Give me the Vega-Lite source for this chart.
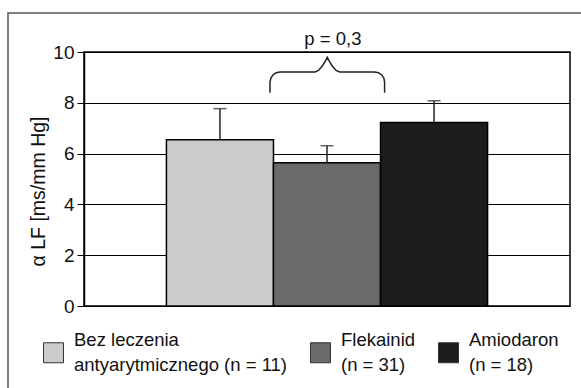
{
  "$schema": "https://vega.github.io/schema/vega-lite/v6.json",
  "width": 486,
  "height": 254,
  "autosize": {"type": "none"},
  "padding": {"left": 84, "top": 52, "right": 11, "bottom": 82},
  "background": "white",
  "config": {
    "view": {"stroke": "#000", "strokeWidth": 1.5},
    "font": "Liberation Sans, Arial, sans-serif"
  },
  "datasets": {
    "bars": [
      {"group": "Bez leczenia\nantyarytmicznego (n = 11)", "mean": 6.55, "upper": 7.77},
      {"group": "Flekainid\n(n = 31)", "mean": 5.64, "upper": 6.31},
      {"group": "Amiodaron\n(n = 18)", "mean": 7.22, "upper": 8.08}
    ],
    "brace": [
      {"i": 1, "bx": 1.7375, "by": 8.398},
      {"i": 2, "bx": 1.7375, "by": 8.819},
      {"i": 3, "bx": 1.746, "by": 8.970},
      {"i": 4, "bx": 1.765, "by": 9.097},
      {"i": 5, "bx": 1.795, "by": 9.183},
      {"i": 6, "bx": 1.831, "by": 9.213},
      {"i": 7, "bx": 2.158, "by": 9.213},
      {"i": 8, "bx": 2.190, "by": 9.272},
      {"i": 9, "bx": 2.223, "by": 9.429},
      {"i": 10, "bx": 2.256, "by": 9.646},
      {"i": 11, "bx": 2.273, "by": 9.791},
      {"i": 12, "bx": 2.290, "by": 9.646},
      {"i": 13, "bx": 2.322, "by": 9.429},
      {"i": 14, "bx": 2.355, "by": 9.272},
      {"i": 15, "bx": 2.388, "by": 9.213},
      {"i": 16, "bx": 2.715, "by": 9.213},
      {"i": 17, "bx": 2.751, "by": 9.183},
      {"i": 18, "bx": 2.781, "by": 9.097},
      {"i": 19, "bx": 2.801, "by": 8.970},
      {"i": 20, "bx": 2.808, "by": 8.819},
      {"i": 21, "bx": 2.808, "by": 8.398}
    ],
    "note": [{"tx": 2.325, "ty": 10.276, "label": "p = 0,3"}],
    "frame": [{"x1": -0.71, "x2": 5.0, "y1": -4.0, "y2": 11.535}]
  },
  "resolve": {"scale": {"x": "independent"}},
  "layer": [
    {
      "data": {"name": "bars"},
      "layer": [
        {
          "mark": {"type": "bar", "stroke": "#000", "strokeWidth": 1.5},
          "encoding": {
            "x": {
              "field": "group", "type": "nominal", "sort": null,
              "scale": {"paddingInner": 0, "paddingOuter": 0.77},
              "axis": null
            },
            "y": {
              "field": "mean", "type": "quantitative",
              "scale": {"domain": [0, 10], "nice": false},
              "axis": {
                "values": [0, 2, 4, 6, 8, 10],
                "title": "α LF [ms/mm Hg]",
                "titleFont": "Liberation Sans, Arial, sans-serif",
                "titleFontSize": 19.5,
                "titleFontWeight": "normal",
                "titleColor": "#111",
                "titleX": -46,
                "titleY": 139,
                "titleAngle": -90,
                "titleAlign": "center",
                "titleBaseline": "middle",
                "labelFont": "Liberation Sans, Arial, sans-serif",
                "labelFontSize": 19,
                "labelColor": "#111",
                "labelPadding": 3,
                "tickColor": "#000",
                "tickSize": 7,
                "tickWidth": 1,
                "domainColor": "#000",
                "domainWidth": 1.5,
                "grid": true,
                "gridColor": "#000",
                "gridWidth": 1,
                "gridOpacity": 1
              }
            },
            "color": {
              "field": "group", "type": "nominal", "sort": null,
              "scale": {"range": ["#cbcbcb", "#6a6a6a", "#1c1c1c"]},
              "legend": {
                "orient": "none",
                "legendX": -41,
                "legendY": 290,
                "direction": "horizontal",
                "columns": 3,
                "title": null,
                "padding": 0,
                "symbolType": "square",
                "symbolSize": 400,
                "symbolStrokeColor": "#333",
                "symbolStrokeWidth": 1,
                "symbolOpacity": 1,
                "labelFont": "Liberation Sans, Arial, sans-serif",
                "labelFontSize": 18.5,
                "labelColor": "#111",
                "labelLimit": 400,
                "labelOffset": 10,
                "columnPadding": 20,
                "labelExpr": "split(datum.label, '\\n')",
                "encode": {"labels": {"update": {"lineHeight": {"value": 25}, "dy": {"value": -12.5}}}}
              }
            }
          }
        },
        {
          "mark": {"type": "rule", "color": "#222", "strokeWidth": 1.5},
          "encoding": {
            "x": {"field": "group", "type": "nominal", "sort": null, "scale": {"paddingInner": 0, "paddingOuter": 0.77}, "axis": null},
            "y": {"field": "mean", "type": "quantitative", "scale": {"domain": [0, 10], "nice": false}},
            "y2": {"field": "upper"}
          }
        },
        {
          "mark": {"type": "tick", "color": "#222", "size": 13, "thickness": 1.5},
          "encoding": {
            "x": {"field": "group", "type": "nominal", "sort": null, "scale": {"paddingInner": 0, "paddingOuter": 0.77}, "axis": null},
            "y": {"field": "upper", "type": "quantitative", "scale": {"domain": [0, 10], "nice": false}}
          }
        }
      ]
    },
    {
      "layer": [
        {
          "data": {"name": "frame"},
          "mark": {"type": "rect", "fill": null, "fillOpacity": 0, "stroke": "#555", "strokeWidth": 1.5},
          "encoding": {
            "x": {"field": "x1", "type": "quantitative", "scale": {"domain": [0, 4.54], "nice": false, "zero": false}, "axis": null},
            "x2": {"field": "x2"},
            "y": {"field": "y1", "type": "quantitative", "scale": {"domain": [0, 10], "nice": false}},
            "y2": {"field": "y2"}
          }
        },
        {
          "data": {"name": "brace"},
          "mark": {"type": "line", "color": "#222", "strokeWidth": 1.5},
          "encoding": {
            "x": {"field": "bx", "type": "quantitative", "scale": {"domain": [0, 4.54], "nice": false, "zero": false}, "axis": null},
            "y": {"field": "by", "type": "quantitative", "scale": {"domain": [0, 10], "nice": false}},
            "order": {"field": "i", "type": "quantitative"}
          }
        },
        {
          "data": {"name": "note"},
          "mark": {"type": "text", "fontSize": 18.5, "color": "#111", "align": "center", "baseline": "alphabetic", "font": "Liberation Sans, Arial, sans-serif"},
          "encoding": {
            "x": {"field": "tx", "type": "quantitative", "scale": {"domain": [0, 4.54], "nice": false, "zero": false}, "axis": null},
            "y": {"field": "ty", "type": "quantitative", "scale": {"domain": [0, 10], "nice": false}},
            "text": {"field": "label"}
          }
        }
      ]
    }
  ]
}
